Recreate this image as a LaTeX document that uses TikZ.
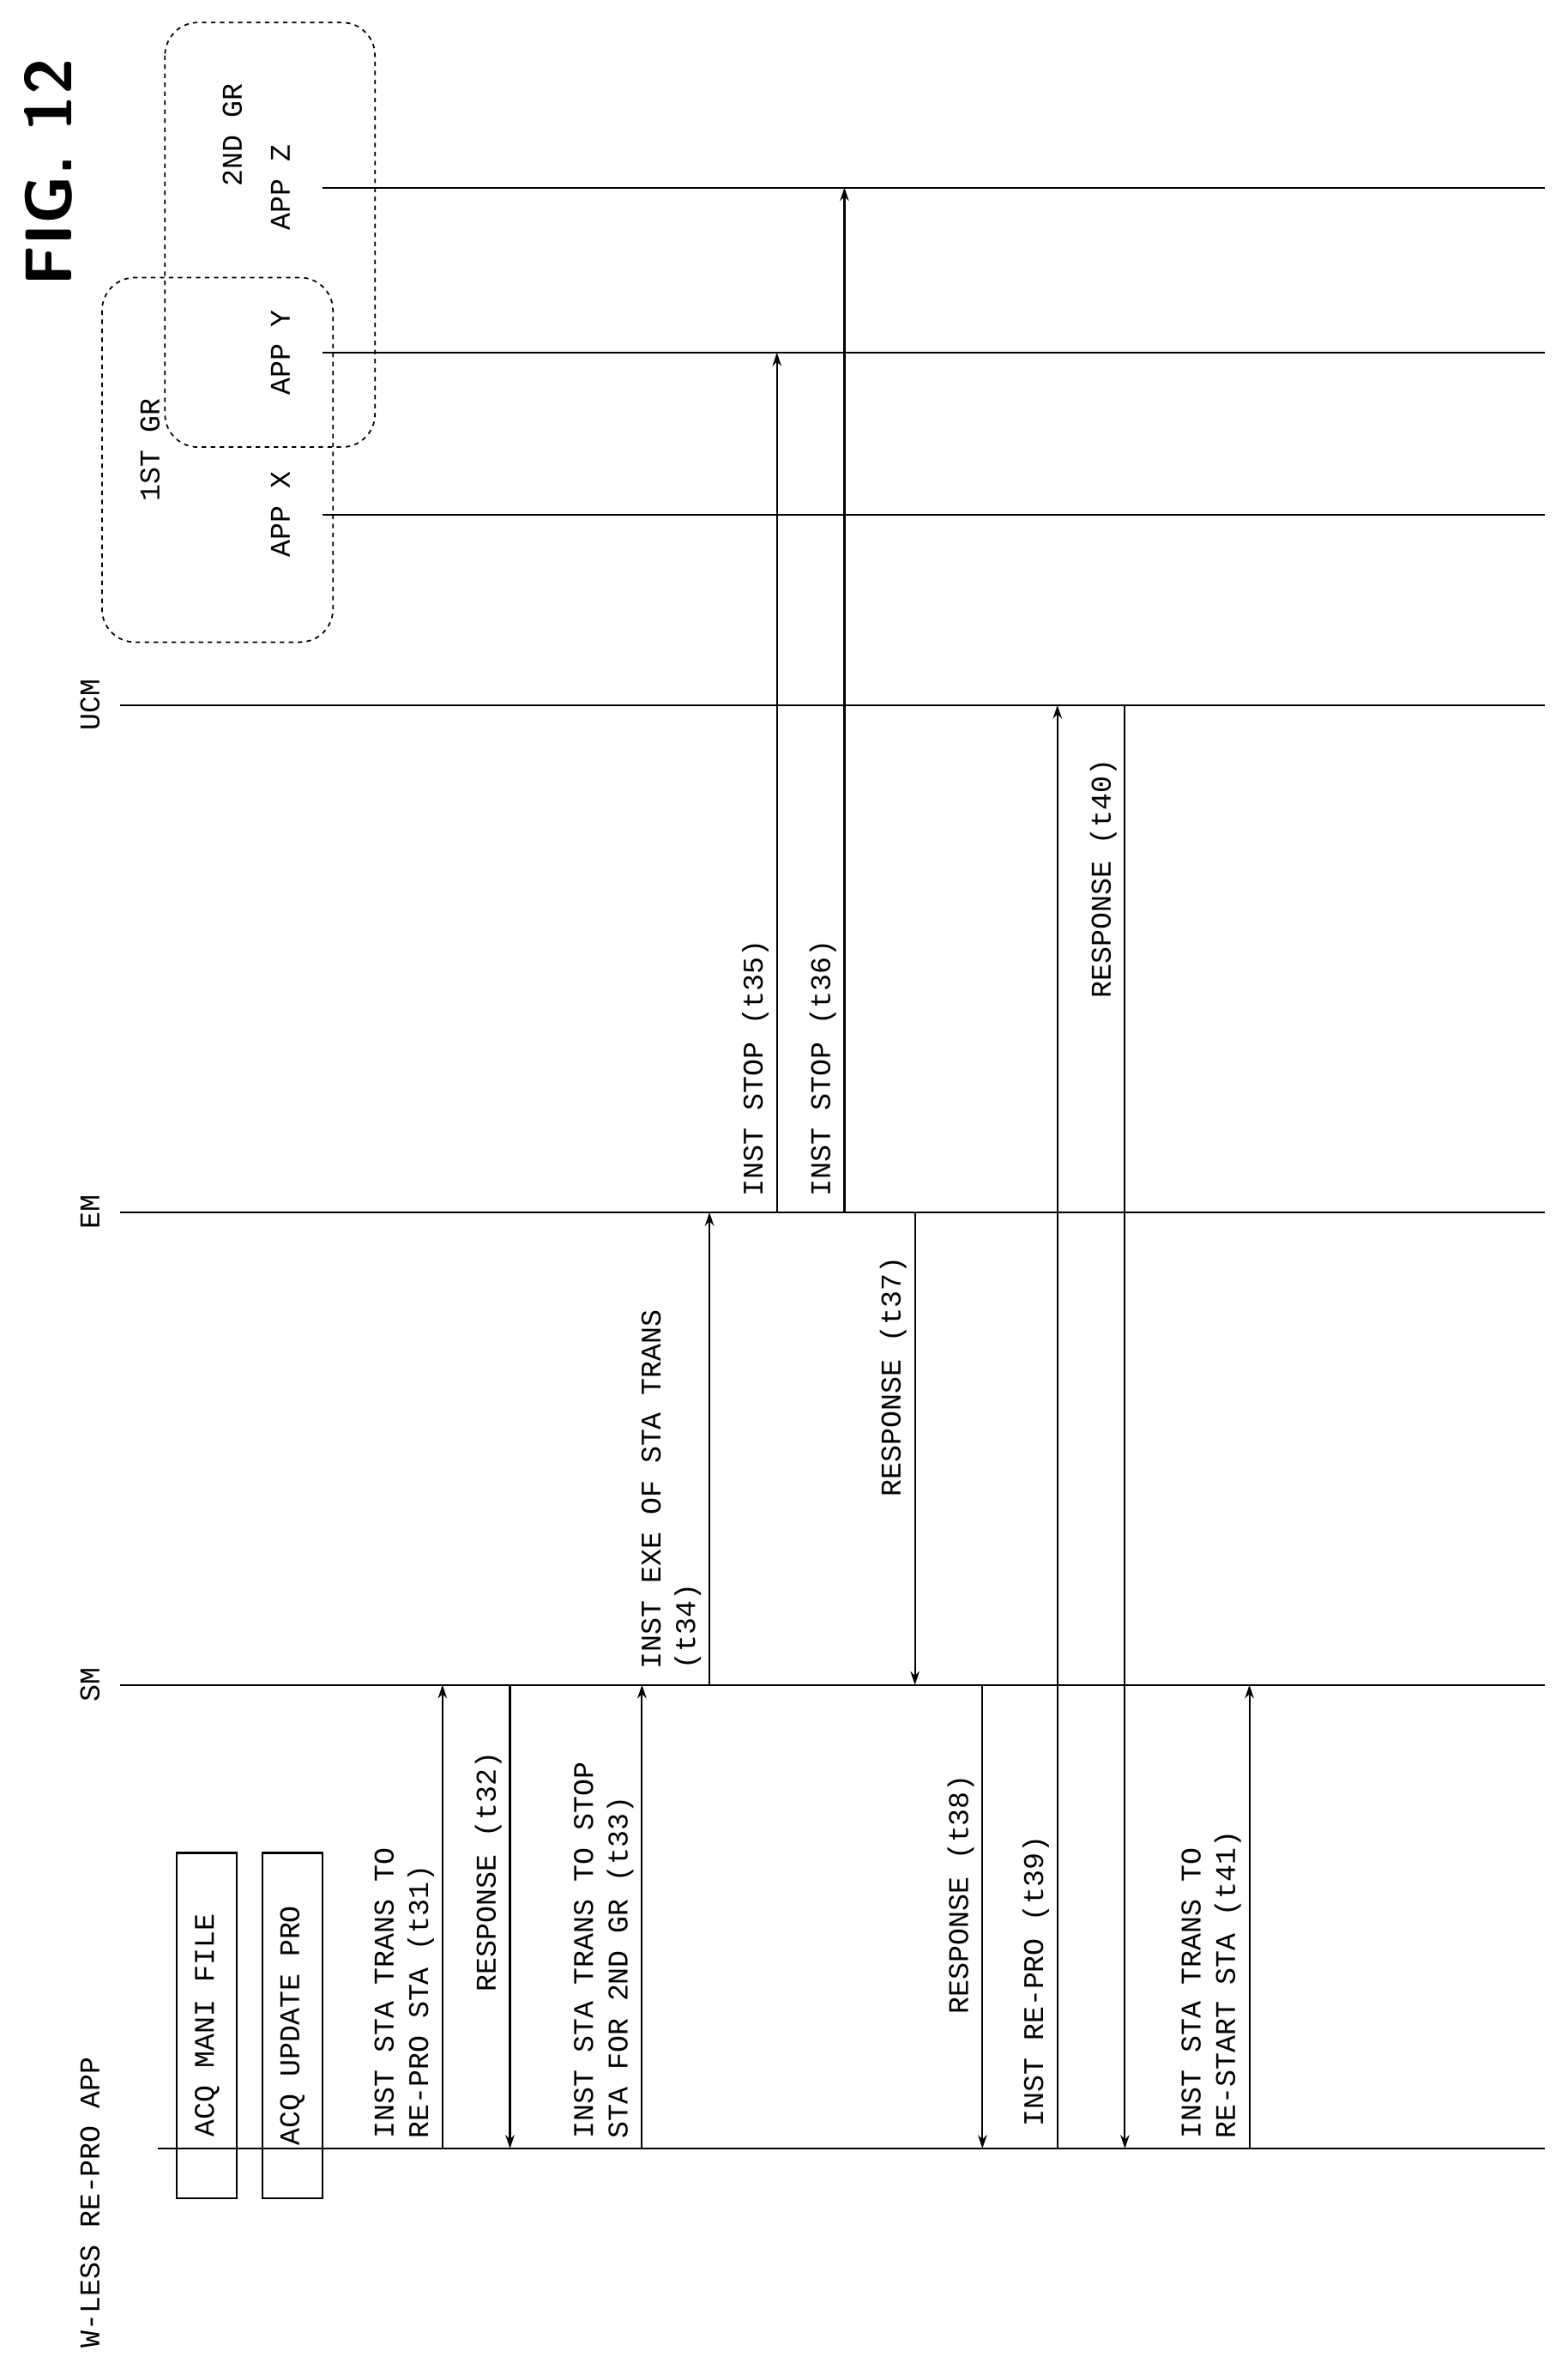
\documentclass[tikz,border=0pt]{standalone}
\usepackage{fontspec}
\setmainfont{Liberation Mono}
\usetikzlibrary{arrows.meta}
\begin{document}
\begin{tikzpicture}[x=1pt, y=-1pt, line width = 1.2pt,
  life/.style = {draw, line width=1.2pt},
  msg/.style = {draw, -{Stealth[length=9pt,width=6pt]}},
  lbl/.style = {rotate=90, anchor=south west, align=left, font=\fontsize{19}{23}\selectfont, inner sep=2pt},
  ttl/.style = {rotate=90, font=\fontsize{19}{23}\selectfont},
  grp/.style = {draw, dashed, rounded corners=22pt, line width=1pt},
  act/.style = {draw, rotate=90, minimum width=230pt, minimum height=40pt, font=\fontsize{19}{23}\selectfont}]
\useasboundingbox (0,0) rectangle (1045,1571);
% lifelines
\coordinate (w0) at (105,1432); \coordinate (w1) at (1030,1432);
\coordinate (s0) at (80,1123);  \coordinate (s1) at (1030,1123);
\coordinate (e0) at (80,808);   \coordinate (e1) at (1030,808);
\coordinate (u0) at (80,470);   \coordinate (u1) at (1030,470);
\coordinate (x0) at (215,343);  \coordinate (x1) at (1030,343);
\coordinate (y0) at (215,235);  \coordinate (y1) at (1030,235);
\coordinate (z0) at (215,125);  \coordinate (z1) at (1030,125);
\foreach \l in {w,s,e,u,x,y,z} \draw[life] (\l0) -- (\l1);
% titles
\node[ttl] (tw) at (60,1468) {W-LESS RE-PRO APP};
\node[ttl] (ts) at (60,1123) {SM};
\node[ttl] (te) at (60,808) {EM};
\node[ttl] (tu) at (60,470) {UCM};
\node[ttl] (tx) at (187,343) {APP X};
\node[ttl] (ty) at (187,235) {APP Y};
\node[ttl] (tz) at (187,125) {APP Z};
\node[ttl] (g1) at (100,300) {1ST GR};
\node[ttl] (g2) at (155,90) {2ND GR};
\node[rotate=90, font=\fontsize{44}{50}\bfseries\sffamily] (fig) at (32,115) {FIG. 12};
% groups
\draw[grp] (68,185) rectangle (222,428);
\draw[grp] (110,15) rectangle (250,298);
% actions
\node[act] (a1) at (138,1350) {ACQ MANI FILE};
\node[act] (a2) at (195,1350) {ACQ UPDATE PRO};
% messages
\draw[msg] (295,1432) -- (295,1123);
\node[lbl] (l31) at (292,1428) {INST STA TRANS TO\\RE-PRO STA (t31)};
\draw[msg] (340,1123) -- (340,1432);
\node[lbl] (l32) at (337,1330) {RESPONSE (t32)};
\draw[msg] (428,1432) -- (428,1123);
\node[lbl] (l33) at (425,1428) {INST STA TRANS TO STOP\\STA FOR 2ND GR (t33)};
\draw[msg] (473,1123) -- (473,808);
\node[lbl] (l34) at (470,1115) {INST EXE OF STA TRANS\\(t34)};
\draw[msg] (518,808) -- (518,235);
\node[lbl] (l35) at (515,800) {INST STOP (t35)};
\draw[msg] (563,808) -- (563,125);
\node[lbl] (l36) at (560,800) {INST STOP (t36)};
\draw[msg] (610,808) -- (610,1123);
\node[lbl] (l37) at (607,1000) {RESPONSE (t37)};
\draw[msg] (655,1123) -- (655,1432);
\node[lbl] (l38) at (652,1345) {RESPONSE (t38)};
\draw[msg] (705,1432) -- (705,470);
\node[lbl] (l39) at (702,1420) {INST RE-PRO (t39)};
\draw[msg] (750,470) -- (750,1432);
\node[lbl] (l40) at (747,668) {RESPONSE (t40)};
\draw[msg] (833,1432) -- (833,1123);
\node[lbl] (l41) at (830,1428) {INST STA TRANS TO\\RE-START STA (t41)};
\end{tikzpicture}
\end{document}
